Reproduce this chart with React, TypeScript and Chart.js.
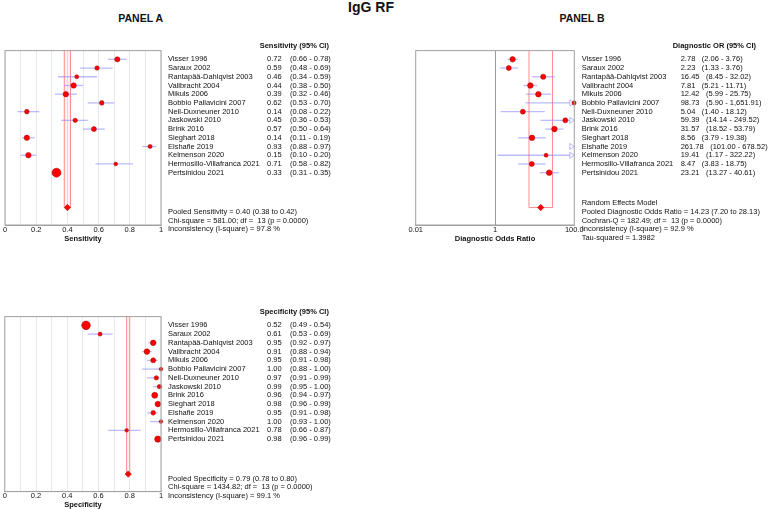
import React, { useEffect, useRef } from 'react';
import { Chart, registerables } from 'chart.js';
Chart.register(...registerables);

// ---------------- DATA ----------------
const studies = [
  'Visser 1996', 'Saraux 2002', 'Rantapää-Dahlqvist 2003', 'Vallbracht 2004', 'Mikuls 2006',
  'Bobbio Pallavicini 2007', 'Nell-Duxneuner 2010', 'Jaskowski 2010', 'Brink 2016', 'Sieghart 2018',
  'Elshafie 2019', 'Kelmenson 2020', 'Hermosillo-Villafranca 2021', 'Pertsinidou 2021',
];

const sensitivity = [0.72, 0.59, 0.46, 0.44, 0.39, 0.62, 0.14, 0.45, 0.57, 0.14, 0.93, 0.15, 0.71, 0.33];
const sensLow = [0.66, 0.48, 0.34, 0.38, 0.32, 0.53, 0.08, 0.36, 0.50, 0.11, 0.88, 0.10, 0.58, 0.31];
const sensHigh = [0.78, 0.69, 0.59, 0.50, 0.46, 0.70, 0.22, 0.53, 0.64, 0.19, 0.97, 0.20, 0.82, 0.35];
const sensSize = [2.6, 2.2, 2.0, 2.7, 2.7, 2.3, 2.3, 2.2, 2.5, 2.7, 2.1, 2.7, 1.9, 4.5];
const sensPooled = [0.40, 0.38, 0.42];
const sensStats = [
  'Pooled Sensitivity = 0.40 (0.38 to 0.42)',
  'Chi-square = 581.00; df =  13 (p = 0.0000)',
  'Inconsistency (I-square) = 97.8 %',
];

const specificity = [0.52, 0.61, 0.95, 0.91, 0.95, 1.00, 0.97, 0.99, 0.96, 0.98, 0.95, 1.00, 0.78, 0.98];
const specLow = [0.49, 0.53, 0.92, 0.88, 0.91, 0.88, 0.91, 0.95, 0.94, 0.96, 0.91, 0.93, 0.66, 0.96];
const specHigh = [0.54, 0.69, 0.97, 0.94, 0.98, 1.00, 0.99, 1.00, 0.97, 0.99, 0.98, 1.00, 0.87, 0.99];
const specSize = [4.3, 2.0, 2.8, 2.8, 2.5, 1.8, 2.2, 2.2, 3.0, 2.8, 2.3, 1.8, 1.8, 3.2];
const specPooled = [0.79, 0.78, 0.80];
const specStats = [
  'Pooled Specificity = 0.79 (0.78 to 0.80)',
  'Chi-square = 1434.82; df =  13 (p = 0.0000)',
  'Inconsistency (I-square) = 99.1 %',
];

const dor = [2.78, 2.23, 16.45, 7.81, 12.42, 98.73, 5.04, 59.39, 31.57, 8.56, 261.78, 19.41, 8.47, 23.21];
const dorLow = [2.06, 1.33, 8.45, 5.21, 5.99, 5.90, 1.40, 14.14, 18.52, 3.79, 101.00, 1.17, 3.83, 13.27];
const dorHigh = [3.76, 3.76, 32.02, 11.71, 25.75, 1651.91, 18.12, 249.52, 53.79, 19.38, 678.52, 322.22, 18.75, 40.61];
const dorSize = [2.7, 2.5, 2.6, 2.8, 2.8, 2.1, 2.5, 2.5, 2.8, 2.8, 2.5, 2.0, 2.5, 2.8];
const dorPooled = [14.23, 7.20, 28.13];
const dorStats = [
  'Random Effects Model',
  'Pooled Diagnostic Odds Ratio = 14.23 (7.20 to 28.13)',
  'Cochran-Q = 182.49; df =  13 (p = 0.0000)',
  'Inconsistency (I-square) = 92.9 %',
  'Tau-squared = 1.3982',
];

const propGridValues = [0, 0.1, 0.2, 0.3, 0.4, 0.5, 0.6, 0.7, 0.8, 0.9, 1];
const propTickLabels = ['0', '0.2', '0.4', '0.6', '0.8', '1'];
const dorTickValues = [0.01, 1, 100];
const dorTickLabels = ['0.01', '1', '100.0'];

const POOLED_ROW = 17;
const FONT = '"Liberation Sans", Arial, Helvetica, sans-serif';
const TEXT = '#111111';

type PanelCfg = {
  est: number[]; lo: number[]; hi: number[]; size: number[]; pooled: number[];
  stats: string[]; statsStart: number; header: string; axisTitle: string;
  log: boolean; min: number; max: number;
  padding: { left: number; right: number; top: number; bottom: number };
  axisH: number; titlePadBottom: number;
  nameX: number; valX: number; ciX: number | null; headerX: number;
  bandFill: string | null; closeBand: boolean;
  fmt: (v: number) => string;
};

const fmt2 = (v: number) => v.toFixed(2);
const fmtComma = (v: number) =>
  v.toLocaleString('en-US', { minimumFractionDigits: 2, maximumFractionDigits: 2 });

const forestPlugin = {
  id: 'forest',
  beforeDatasetsDraw(chart: any, _a: any, opts: any) {
    const cfg: PanelCfg = opts.cfg;
    const { ctx, chartArea } = chart;
    const xs = chart.scales.x, ys = chart.scales.y;
    ctx.save();
    // pooled estimate CI band
    const pl = xs.getPixelForValue(cfg.pooled[1]);
    const ph = xs.getPixelForValue(cfg.pooled[2]);
    const py = ys.getPixelForValue(POOLED_ROW);
    if (cfg.bandFill) {
      ctx.fillStyle = cfg.bandFill;
      ctx.fillRect(pl, chartArea.top, ph - pl, py - chartArea.top);
    }
    ctx.strokeStyle = '#ff8c8c';
    ctx.lineWidth = 1;
    ctx.beginPath();
    ctx.moveTo(pl, chartArea.top);
    ctx.lineTo(pl, py);
    if (cfg.closeBand) ctx.lineTo(ph, py); else ctx.moveTo(ph, py);
    ctx.lineTo(ph, chartArea.top);
    ctx.stroke();

    // confidence intervals
    ctx.strokeStyle = 'rgba(120,120,255,0.5)';
    ctx.lineWidth = 1.3;
    const arrowLen = 4.5;
    cfg.est.forEach((_v, i) => {
      const y = ys.getPixelForValue(i);
      const over = cfg.hi[i] > cfg.max;
      const x1 = xs.getPixelForValue(Math.max(cfg.lo[i], cfg.min));
      let x2 = xs.getPixelForValue(Math.min(cfg.hi[i], cfg.max));
      if (over) x2 = chartArea.right - arrowLen;
      if (cfg.lo[i] < cfg.max) {
        ctx.beginPath();
        ctx.moveTo(x1, y);
        ctx.lineTo(x2, y);
        ctx.stroke();
      }
      if (over) {
        ctx.save();
        ctx.lineWidth = 1;
        ctx.beginPath();
        ctx.moveTo(chartArea.right - arrowLen, y - 3);
        ctx.lineTo(chartArea.right, y);
        ctx.lineTo(chartArea.right - arrowLen, y + 3);
        ctx.closePath();
        ctx.stroke();
        ctx.restore();
      }
    });
    ctx.restore();
  },
  afterDraw(chart: any, _a: any, opts: any) {
    const cfg: PanelCfg = opts.cfg;
    const { ctx, chartArea } = chart;
    const ys = chart.scales.y;
    ctx.save();
    ctx.strokeStyle = '#a0a0a0';
    ctx.lineWidth = 1;
    ctx.strokeRect(chartArea.left, chartArea.top, chartArea.right - chartArea.left, chartArea.bottom - chartArea.top);

    ctx.fillStyle = TEXT;
    ctx.textBaseline = 'middle';
    ctx.textAlign = 'left';
    ctx.font = `bold 7.5px ${FONT}`;
    ctx.fillText(cfg.header, cfg.headerX, ys.getPixelForValue(-1.5));
    ctx.font = `7.5px ${FONT}`;
    studies.forEach((name, i) => {
      const y = ys.getPixelForValue(i);
      ctx.fillText(name, cfg.nameX, y);
      const vs = cfg.fmt(cfg.est[i]);
      ctx.fillText(vs, cfg.valX, y);
      const ci = `(${cfg.fmt(cfg.lo[i])} - ${cfg.fmt(cfg.hi[i])})`;
      const cx = cfg.ciX !== null ? cfg.ciX : cfg.valX + ctx.measureText(vs).width + 6.5;
      ctx.fillText(ci, cx, y);
    });
    cfg.stats.forEach((s, k) => {
      ctx.fillText(s, cfg.nameX, ys.getPixelForValue(cfg.statsStart + k));
    });
    ctx.restore();
  },
};

function ForestPanel({ cfg, left, top, width, height }: { cfg: PanelCfg; left: number; top: number; width: number; height: number }) {
  const ref = useRef<HTMLCanvasElement>(null);
  useEffect(() => {
    const points = cfg.est.map((v, i) => ({ x: v, y: i }));
    const radii = cfg.est.map((v, i) => (v <= cfg.max ? cfg.size[i] : 0));
    const xScale: any = {
      type: cfg.log ? 'logarithmic' : 'linear',
      position: 'bottom',
      min: cfg.min,
      max: cfg.max,
      afterBuildTicks: (s: any) => {
        s.ticks = (cfg.log ? dorTickValues : propGridValues).map((v) => ({ value: v }));
      },
      afterFit: (s: any) => { s.height = cfg.axisH; },
      grid: {
        display: true,
        drawTicks: false,
        lineWidth: 1,
        color: (c: any) => {
          if (cfg.log) return c.tick && c.tick.value === 1 ? '#9a9a9a' : 'rgba(0,0,0,0)';
          return '#e8e8e8';
        },
      },
      border: { display: true, color: '#a0a0a0' },
      ticks: {
        autoSkip: false,
        maxRotation: 0,
        padding: 0,
        color: TEXT,
        font: { family: FONT, size: 7.5 },
        callback: (_v: any, idx: number) => {
          if (cfg.log) return dorTickLabels[idx];
          return idx % 2 === 0 ? propTickLabels[idx / 2] : '';
        },
      },
      title: {
        display: true,
        text: cfg.axisTitle,
        color: TEXT,
        font: { family: FONT, size: 7.5, weight: 'bold' },
        padding: { top: 0, bottom: cfg.titlePadBottom },
      },
    };
    const chart = new Chart(ref.current as HTMLCanvasElement, {
      type: 'scatter',
      data: {
        datasets: [
          {
            data: points,
            pointRadius: radii,
            pointHoverRadius: radii,
            pointBackgroundColor: '#ff0000',
            pointBorderColor: '#9a0000',
            pointBorderWidth: 0.5,
            clip: false as any,
          },
          {
            data: [{ x: cfg.pooled[0], y: POOLED_ROW }],
            pointStyle: 'rectRot',
            pointRadius: 3.2,
            pointBackgroundColor: '#ff0000',
            pointBorderColor: '#9a0000',
            pointBorderWidth: 0.5,
            clip: false as any,
          },
        ],
      },
      options: {
        responsive: false,
        animation: false,
        events: [],
        layout: { padding: cfg.padding },
        scales: {
          x: xScale,
          y: { type: 'linear', display: false, min: -1, max: 19, reverse: true },
        },
        plugins: {
          legend: { display: false },
          tooltip: { enabled: false },
          forest: { cfg },
        } as any,
      },
      plugins: [forestPlugin as any],
    });
    return () => chart.destroy();
  }, []);
  return <canvas ref={ref} width={width} height={height} style={{ position: 'absolute', left, top, width, height }} />;
}

const cfgA: PanelCfg = {
  est: sensitivity, lo: sensLow, hi: sensHigh, size: sensSize, pooled: sensPooled,
  stats: sensStats, statsStart: 17.5, header: 'Sensitivity (95% CI)', axisTitle: 'Sensitivity',
  log: false, min: 0, max: 1,
  padding: { left: 2.5, right: 223, top: 50.6, bottom: 0 },
  axisH: 25, titlePadBottom: 6.5,
  nameX: 168, valX: 267, ciX: 290, headerX: 259.7,
  bandFill: 'rgba(255,120,120,0.10)', closeBand: false, fmt: fmt2,
};

const cfgB: PanelCfg = {
  est: dor, lo: dorLow, hi: dorHigh, size: dorSize, pooled: dorPooled,
  stats: dorStats, statsStart: 16.5, header: 'Diagnostic OR (95% CI)', axisTitle: 'Diagnostic Odds Ratio',
  log: true, min: 0.01, max: 100,
  padding: { left: 31.7, right: 193.7, top: 50.6, bottom: 0 },
  axisH: 25, titlePadBottom: 6.5,
  nameX: 197.7, valX: 296.7, ciX: null, headerX: 288.7,
  bandFill: null, closeBand: true, fmt: fmtComma,
};

const cfgC: PanelCfg = {
  est: specificity, lo: specLow, hi: specHigh, size: specSize, pooled: specPooled,
  stats: specStats, statsStart: 17.5, header: 'Specificity (95% CI)', axisTitle: 'Specificity',
  log: false, min: 0, max: 1,
  padding: { left: 2.5, right: 223, top: 56.6, bottom: 0 },
  axisH: 17.4, titlePadBottom: 0,
  nameX: 168, valX: 267, ciX: 290, headerX: 259.7,
  bandFill: 'rgba(255,120,120,0.10)', closeBand: false, fmt: fmt2,
};

const labelStyle = (cx: number, top: number, size: number): React.CSSProperties => ({
  position: 'absolute', left: cx - 100, top, width: 200, textAlign: 'center',
  fontFamily: FONT, fontWeight: 'bold', fontSize: size, lineHeight: `${size}px`, color: TEXT, whiteSpace: 'nowrap',
});

export default function App() {
  return (
    <div style={{ position: 'fixed', left: 0, top: 0, width: 768, height: 509, background: '#fff', overflow: 'hidden' }}>
      <div style={labelStyle(371, 0, 14)}>IgG RF</div>
      <div style={labelStyle(140.7, 13.2, 10.5)}>PANEL A</div>
      <div style={labelStyle(582, 13.2, 10.5)}>PANEL B</div>
      <ForestPanel cfg={cfgA} left={0} top={0} width={384} height={250} />
      <ForestPanel cfg={cfgB} left={384} top={0} width={384} height={250} />
      <ForestPanel cfg={cfgC} left={0} top={260} width={384} height={249} />
    </div>
  );
}
